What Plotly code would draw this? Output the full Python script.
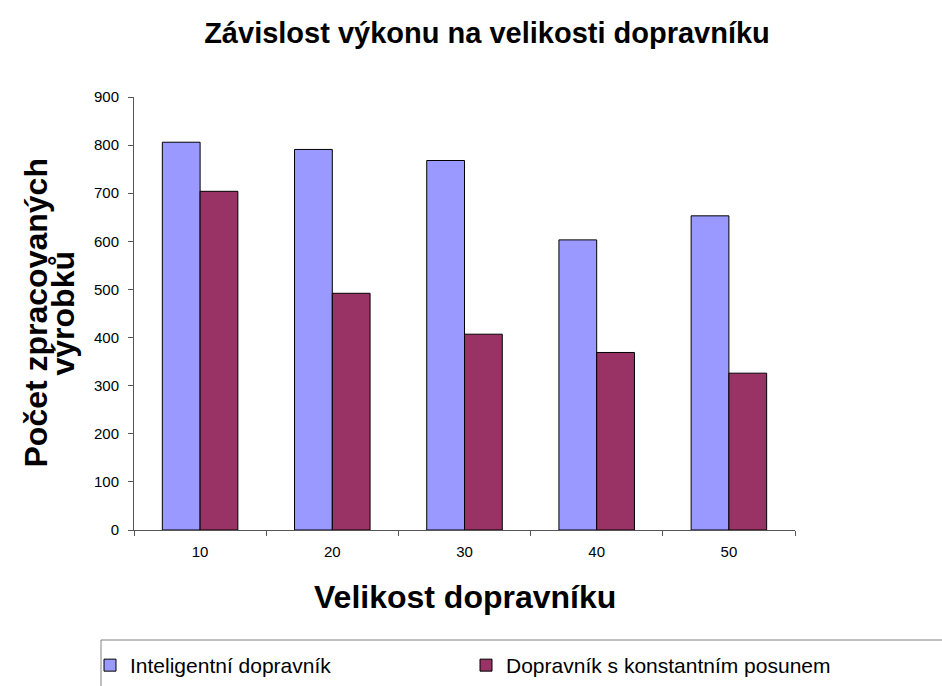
import plotly.graph_objects as go

sizes = ["10", "20", "30", "40", "50"]
inteligentni = [806, 791, 768, 603, 653]
konstantni = [704, 492, 407, 369, 326]

series_names = ["Inteligentní dopravník", "Dopravník s konstantním posunem"]
series_colors = ["#9999FF", "#993366"]
legend_ids = ["legend", "legend2"]

FONT = "Liberation Sans, Arial, sans-serif"

fig = go.Figure()
for name, vals, col, lg in zip(series_names, [inteligentni, konstantni], series_colors, legend_ids):
    fig.add_trace(go.Bar(
        x=sizes, y=vals, name=name, legend=lg,
        marker=dict(color=col, line=dict(color="#000000", width=1)),
    ))

L, R, T, B = 134, 147, 97, 156
W, H = 942, 686
pw, ph = W - L - R, H - T - B

def px_x(x):
    return (x - L) / pw

def px_y(y):
    return (H - B - y) / ph

leg_common = dict(
    orientation="h", xanchor="left", yanchor="top", y=px_y(645),
    font=dict(size=21, family=FONT, color="#000000"),
    bgcolor="rgba(0,0,0,0)", borderwidth=0,
)

fig.update_layout(
    width=W, height=H,
    margin=dict(l=L, r=R, t=T, b=B, autoexpand=False),
    paper_bgcolor="white", plot_bgcolor="white",
    barmode="group", bargap=0.4286, bargroupgap=0,
    font=dict(family=FONT, color="#000000"),
    title=dict(
        text="<b>Závislost výkonu na velikosti dopravníku</b>",
        x=487 / W, xanchor="center", y=1 - 33 / H, yanchor="middle",
        font=dict(size=29, family=FONT, color="#000000"),
    ),
    xaxis=dict(
        type="category", showgrid=False, showline=True, linecolor="#555555", linewidth=1,
        ticks="outside", ticklen=5, tickcolor="#555555", tickson="boundaries",
        tickfont=dict(size=15, family=FONT, color="#000000"),
        ticklabelstandoff=8, zeroline=False,
    ),
    yaxis=dict(
        range=[0, 900], dtick=100, showgrid=False, showline=True, linecolor="#555555",
        linewidth=1, ticks="outside", ticklen=5, tickcolor="#555555",
        tickfont=dict(size=15, family=FONT, color="#000000"),
        ticklabelstandoff=6, zeroline=False,
    ),
    legend=dict(x=px_x(90), **leg_common),
    legend2=dict(x=px_x(466), **leg_common),
    showlegend=True,
)

annotations = [
    dict(text="<b>Počet zpracovaných</b>", x=px_x(35), y=0.5, textangle=-90,
         font=dict(size=32, family=FONT, color="#000000")),
    dict(text="<b>výrobků</b>", x=px_x(62), y=0.5, textangle=-90,
         font=dict(size=32, family=FONT, color="#000000")),
    dict(text="<b>Velikost dopravníku</b>", x=0.5, y=px_y(597),
         font=dict(size=32, family=FONT, color="#000000")),
]
for a in annotations:
    a.update(xref="paper", yref="paper", showarrow=False, xanchor="center", yanchor="middle")
fig.update_layout(annotations=annotations)

fig.add_shape(type="rect", xref="paper", yref="paper",
              x0=px_x(101), x1=px_x(960), y0=px_y(640), y1=px_y(720),
              line=dict(color="#808080", width=1), fillcolor="rgba(0,0,0,0)", layer="below")

fig.write_html("out.html", post_script="document.body.style.margin='0';",
               config={"displayModeBar": False})
